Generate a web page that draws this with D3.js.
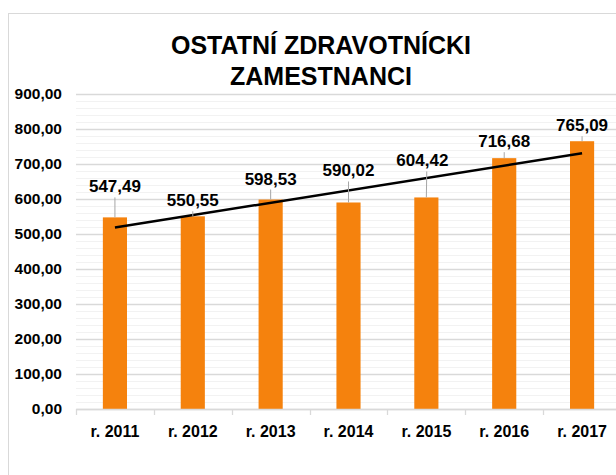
<!DOCTYPE html>
<html>
<head>
<meta charset="utf-8">
<script src="https://cdn.jsdelivr.net/npm/d3@7"></script>
<style>
	body { margin: 0; background: #fff; }
	svg { display: block; font-family: "Liberation Sans", Arial, sans-serif; }
</style>
</head>
<body>
<div id="chart"></div>
<script>
"use strict";

// data
var categories = ["r. 2011", "r. 2012", "r. 2013", "r. 2014", "r. 2015", "r. 2016", "r. 2017"];
var values = [547.49, 550.55, 598.53, 590.02, 604.42, 716.68, 765.09];
var yTicks = [0, 100, 200, 300, 400, 500, 600, 700, 800, 900];
var titleLines = ["OSTATNÍ ZDRAVOTNÍCKI", "ZAMESTNANCI"];

// label nudges (px) from the bar top, as they were dragged in the original
var labelNudge = [[0, -31], [0, -16], [0, -21], [0, -32], [-4, -37], [0, -17], [0, -16]];

var W = 616, H = 475;
var plot = {left: 76, right: 621, top: 94, bottom: 409};

var svg = d3.select("#chart").append("svg")
	.attr("width", W).attr("height", H);

// chart frame
svg.append("rect")
	.attr("x", 8.5).attr("y", 13.5)
	.attr("width", 700).attr("height", 600)
	.attr("fill", "#fff").attr("stroke", "#d9d9d9");

var fmt = function(v){ return d3.format(".2f")(v).replace(".", ","); };

var x = d3.scaleBand().domain(categories)
	.range([plot.left, plot.right]).paddingInner(0.69).paddingOuter(0.345);
var y = d3.scaleLinear().domain([0, 900]).range([plot.bottom, plot.top]);

// minor gridlines every 20
var minor = d3.range(20, 900, 20).filter(function(v){ return v % 100 != 0; });
svg.append("g").selectAll("line").data(minor).join("line")
	.attr("x1", plot.left).attr("x2", plot.right)
	.attr("y1", function(d){ return Math.round(y(d)) + 0.5; })
	.attr("y2", function(d){ return Math.round(y(d)) + 0.5; })
	.attr("stroke", "#f2f2f2").attr("stroke-width", 1);

// y axis with major gridlines
var yAxis = svg.append("g")
	.attr("transform", "translate(" + plot.left + ",0)")
	.call(d3.axisLeft(y).tickValues(yTicks).tickFormat(fmt)
		.tickSize(-(plot.right - plot.left)).tickPadding(14));
yAxis.select(".domain").remove();
yAxis.selectAll(".tick line").attr("stroke", "#d9d9d9").attr("stroke-width", 1.3);
yAxis.selectAll(".tick text")
	.attr("fill", "#000").style("font-size", "15.5px").style("font-weight", "bold");

// bars
svg.append("g").selectAll("rect").data(values).join("rect")
	.attr("x", function(d, i){ return x(categories[i]); })
	.attr("y", function(d){ return y(d); })
	.attr("width", x.bandwidth())
	.attr("height", function(d){ return y(0) - y(d); })
	.attr("fill", "#f5820d");

// x axis
var xAxis = svg.append("g")
	.attr("transform", "translate(0," + plot.bottom + ")")
	.call(d3.axisBottom(x).tickSize(0).tickPadding(17));
xAxis.select(".domain").attr("stroke", "#d9d9d9").attr("stroke-width", 1.5);
xAxis.selectAll(".tick text")
	.attr("fill", "#000").style("font-size", "16px").style("font-weight", "bold");
// category separators
xAxis.append("g").selectAll("line").data(categories).join("line")
	.attr("x1", function(d){ return Math.round(x(d) - x.step() * x.paddingOuter()) + 0.5; })
	.attr("x2", function(d){ return Math.round(x(d) - x.step() * x.paddingOuter()) + 0.5; })
	.attr("y1", 0).attr("y2", 6)
	.attr("stroke", "#d9d9d9").attr("stroke-width", 1.3);

// linear trendline (least squares over the bars)
var n = values.length;
var xs = d3.range(1, n + 1);
var mx = d3.mean(xs), my = d3.mean(values);
var slope = d3.sum(xs, function(v, i){ return (v - mx) * (values[i] - my); }) /
	d3.sum(xs, function(v){ return (v - mx) * (v - mx); });
var icpt = my - slope * mx;
var cx = function(i){ return x(categories[i]) + x.bandwidth() / 2; };
svg.append("line")
	.attr("x1", cx(0)).attr("y1", y(icpt + slope * 1))
	.attr("x2", cx(n - 1)).attr("y2", y(icpt + slope * n))
	.attr("stroke", "#000").attr("stroke-width", 2.5);

// data labels with leader lines
var lab = svg.append("g");
values.forEach(function(v, i){
	var bx = cx(i), by = y(v);
	var lx = bx + labelNudge[i][0], ly = by + labelNudge[i][1];
	if (by - (ly + 9) > 6){
		lab.append("line")
			.attr("x1", bx - labelNudge[i][0] * 0.1).attr("y1", ly + 11)
			.attr("x2", bx).attr("y2", by)
			.attr("stroke", "#a6a6a6").attr("stroke-width", 1);
	}
	lab.append("text")
		.attr("x", lx).attr("y", ly + 6)
		.attr("text-anchor", "middle")
		.style("font-size", "17px").style("font-weight", "bold")
		.text(fmt(v));
});

// title
svg.append("g").selectAll("text").data(titleLines).join("text")
	.attr("x", 321).attr("y", function(d, i){ return 54 + i * 31; })
	.attr("text-anchor", "middle")
	.style("font-size", "25px").style("font-weight", "bold")
	.text(function(d){ return d; });
</script>
</body>
</html>
